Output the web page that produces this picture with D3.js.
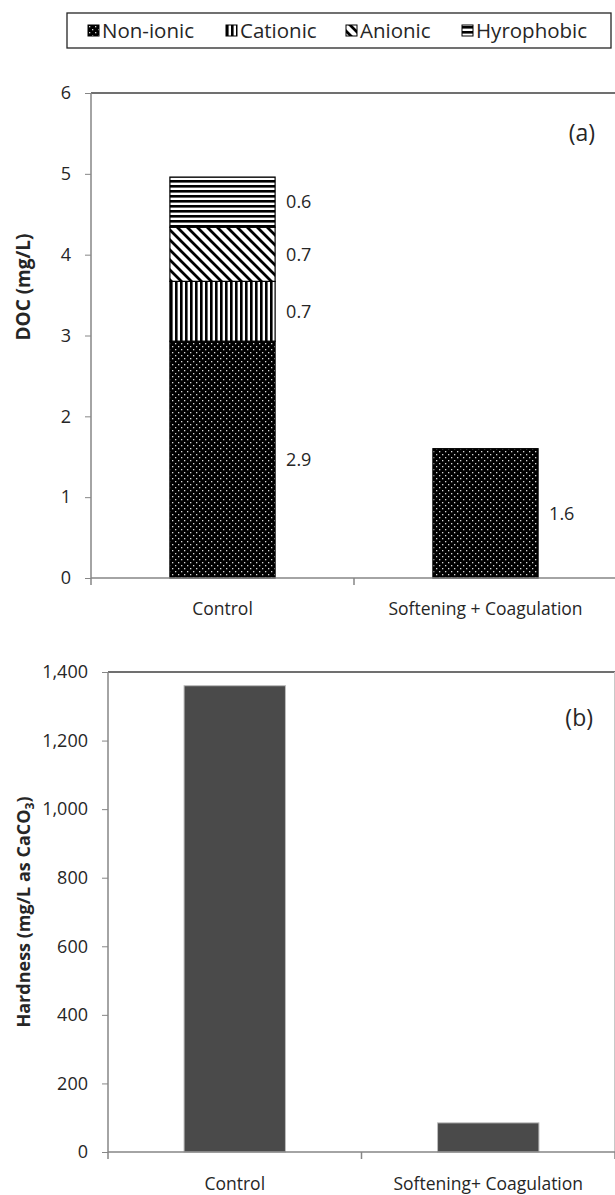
<!DOCTYPE html>
<html>
<head>
<meta charset="utf-8">
<script src="https://cdn.jsdelivr.net/npm/d3@7"></script>
<style>
  body { margin: 0; background: #fff; }
  svg, svg text { font-family: "Open Sans", sans-serif; }
  text { fill: #262626; }
</style>
</head>
<body>
<div id="chart"></div>
<script>
// Panel (a): DOC fractions
const categoriesA = ["Control", "Softening + Coagulation"];
const fractions = ["Non-ionic", "Cationic", "Anionic", "Hyrophobic"];
const docControl = [2.93, 0.74, 0.67, 0.62];
const docTreated = [1.6, 0, 0, 0];
const docTicks = [0, 1, 2, 3, 4, 5, 6];

// Panel (b): hardness
const categoriesB = ["Control", "Softening+ Coagulation"];
const hardness = [1360, 85];
const hardnessTicks = [0, 200, 400, 600, 800, 1000, 1200, 1400];

const width = 615, height = 1195;
const axisColor = "#868686";

const svg = d3.select("#chart")
    .append("svg")
    .attr("width", width)
    .attr("height", height);

// Fill patterns
const defs = svg.append("defs");

const dots = defs.append("pattern")
    .attr("id", "p-nonionic")
    .attr("patternUnits", "userSpaceOnUse")
    .attr("width", 6).attr("height", 6);
dots.append("rect").attr("width", 6).attr("height", 6).attr("fill", "#000");
dots.append("rect").attr("x", 1).attr("y", 1).attr("width", 1.3).attr("height", 1.3).attr("fill", "#d8d8d8");
dots.append("rect").attr("x", 4).attr("y", 4).attr("width", 1.3).attr("height", 1.3).attr("fill", "#d8d8d8");

const vert = defs.append("pattern")
    .attr("id", "p-cationic")
    .attr("patternUnits", "userSpaceOnUse")
    .attr("width", 5).attr("height", 5);
vert.append("rect").attr("width", 5).attr("height", 5).attr("fill", "#fff");
vert.append("rect").attr("width", 2.6).attr("height", 5).attr("fill", "#000");

const diag = defs.append("pattern")
    .attr("id", "p-anionic")
    .attr("patternUnits", "userSpaceOnUse")
    .attr("width", 10).attr("height", 10);
diag.append("rect").attr("width", 10).attr("height", 10).attr("fill", "#fff");
diag.append("path")
    .attr("d", "M-1,-1L11,11M-1,9L1,11M9,-1L11,1")
    .attr("stroke", "#000")
    .attr("stroke-width", 2.8);

const horiz = defs.append("pattern")
    .attr("id", "p-hydrophobic")
    .attr("patternUnits", "userSpaceOnUse")
    .attr("width", 5).attr("height", 5);
horiz.append("rect").attr("width", 5).attr("height", 5).attr("fill", "#fff");
horiz.append("rect").attr("width", 5).attr("height", 2.6).attr("fill", "#000");

const fillScale = d3.scaleOrdinal()
    .domain(fractions)
    .range(["url(#p-nonionic)", "url(#p-cationic)", "url(#p-anionic)", "url(#p-hydrophobic)"]);

// Legend
svg.append("rect")
    .attr("x", 67).attr("y", 13)
    .attr("width", 544).attr("height", 35)
    .attr("fill", "#fff")
    .attr("stroke", "#262626")
    .attr("stroke-width", 1.3);

const legendX = [88, 226, 346, 462];
const legend = svg.selectAll(".legend")
    .data(fractions)
    .enter().append("g")
    .attr("class", "legend")
    .attr("transform", (d, i) => `translate(${legendX[i]},31)`);

legend.append("rect")
    .attr("x", 0).attr("y", -6)
    .attr("width", 11).attr("height", 11)
    .attr("fill", fillScale)
    .attr("stroke", "#000")
    .attr("stroke-width", 1);

legend.append("text")
    .attr("x", 14)
    .attr("dy", "0.35em")
    .style("font-size", "20.5px")
    .text(d => d);

// Shared drawing helpers
function drawFrame(g, x0, x1, y0, y1) {
    g.append("line")
        .attr("x1", x0).attr("x2", x1)
        .attr("y1", y1).attr("y2", y1)
        .attr("stroke", "#404040").attr("stroke-width", 1.5);
    g.append("line")
        .attr("x1", x1 - 0.5).attr("x2", x1 - 0.5)
        .attr("y1", y1).attr("y2", y0)
        .attr("stroke", "#c8c8c8");
}

function drawYAxis(g, y, ticks, x0, fmt) {
    const step = ticks[1] - ticks[0];
    const minor = ticks.slice(0, -1).map(t => t + step / 2);
    const ax = g.append("g")
        .attr("transform", `translate(${x0},0)`)
        .call(d3.axisLeft(y).tickValues(minor).tickSize(6).tickFormat(""))
        .call(d3.axisLeft(y).tickValues(ticks).tickSize(6).tickPadding(14).tickFormat(fmt))
        .attr("font-family", null);
    ax.selectAll("path, line").attr("stroke", axisColor);
    ax.selectAll("text").style("font-size", "18px").attr("fill", "#262626");
    ax.select(".domain").remove();
    ax.append("line")
        .attr("x1", 0).attr("x2", 0)
        .attr("y1", y.range()[0]).attr("y2", y.range()[1])
        .attr("stroke", axisColor).attr("stroke-width", 1.5);
}

function drawXAxis(g, x, y0, pad) {
    const ax = g.append("g")
        .attr("transform", `translate(0,${y0})`)
        .call(d3.axisBottom(x).tickSize(0).tickPadding(pad))
        .attr("font-family", null);
    ax.select(".domain").remove();
    ax.selectAll("text").style("font-size", "17.5px").attr("fill", "#262626");
    ax.append("line")
        .attr("x1", x.range()[0]).attr("x2", x.range()[1])
        .attr("stroke", axisColor).attr("stroke-width", 1.5);
    const bounds = x.domain().map(d => x(d)).concat([x.range()[1]]);
    ax.selectAll(".bound")
        .data(bounds)
        .enter().append("line")
        .attr("class", "bound")
        .attr("x1", d => d).attr("x2", d => d)
        .attr("y1", 0).attr("y2", 7)
        .attr("stroke", axisColor).attr("stroke-width", 1.5);
}

// ---------- Panel (a) ----------
const ga = svg.append("g");
const xA = d3.scaleBand().domain(categoriesA).range([91, 617]);
const yA = d3.scaleLinear().domain([0, 6]).range([578, 93]);
const barWA = xA.bandwidth() * 0.4;

drawFrame(ga, 91, 617, 578, 93);

const rowsA = [docControl, docTreated].map((vals, i) => {
    const row = {category: categoriesA[i]};
    fractions.forEach((f, j) => row[f] = vals[j]);
    return row;
});
const stack = d3.stack().keys(fractions)(rowsA);

const layers = ga.selectAll(".layer")
    .data(stack)
    .enter().append("g")
    .attr("class", "layer")
    .attr("fill", d => fillScale(d.key));

layers.selectAll("rect")
    .data(d => d.filter(s => s[1] - s[0] > 0))
    .enter().append("rect")
    .attr("x", s => xA(s.data.category) + (xA.bandwidth() - barWA) / 2)
    .attr("y", s => yA(s[1]))
    .attr("width", barWA)
    .attr("height", s => yA(s[0]) - yA(s[1]))
    .attr("stroke", "#000")
    .attr("stroke-width", 1.2);

layers.selectAll("text")
    .data(d => d.filter(s => s[1] - s[0] > 0))
    .enter().append("text")
    .attr("x", s => xA(s.data.category) + (xA.bandwidth() + barWA) / 2 + 11)
    .attr("y", s => yA((s[0] + s[1]) / 2))
    .attr("dy", "0.35em")
    .attr("fill", "#262626")
    .style("font-size", "18px")
    .text(s => d3.format(".1f")(s[1] - s[0]));

drawYAxis(ga, yA, docTicks, 91, d3.format("d"));
drawXAxis(ga, xA, 578, 25);

ga.append("text")
    .attr("transform", "translate(30,287) rotate(-90)")
    .style("text-anchor", "middle")
    .style("font-size", "19px")
    .style("font-weight", "bold")
    .attr("fill", "#111")
    .text("DOC (mg/L)");

ga.append("text")
    .attr("x", 595).attr("y", 133)
    .attr("dy", "0.35em")
    .style("text-anchor", "end")
    .style("font-size", "23px")
    .text("(a)");

// ---------- Panel (b) ----------
const gb = svg.append("g");
const xB = d3.scaleBand().domain(categoriesB).range([108, 615]);
const yB = d3.scaleLinear().domain([0, 1400]).range([1152, 672]);
const barWB = xB.bandwidth() * 0.4;

drawFrame(gb, 108, 615, 1152, 672);

gb.selectAll(".bar")
    .data(hardness)
    .enter().append("rect")
    .attr("class", "bar")
    .attr("x", (d, i) => xB(categoriesB[i]) + (xB.bandwidth() - barWB) / 2)
    .attr("y", d => yB(d))
    .attr("width", barWB)
    .attr("height", d => yB(0) - yB(d))
    .attr("fill", "#4a4a4a")
    .attr("stroke", "#bdbdbd")
    .attr("stroke-width", 1);

drawYAxis(gb, yB, hardnessTicks, 108, d3.format(","));
drawXAxis(gb, xB, 1152, 26);

const titleB = gb.append("text")
    .attr("transform", "translate(30,912) rotate(-90)")
    .style("text-anchor", "middle")
    .style("font-size", "18px")
    .style("font-weight", "bold")
    .attr("fill", "#111");
titleB.append("tspan").text("Hardness (mg/L as CaCO");
titleB.append("tspan").attr("dy", 4).style("font-size", "12px").text("3");
titleB.append("tspan").attr("dy", -4).text(")");

gb.append("text")
    .attr("x", 593).attr("y", 718)
    .attr("dy", "0.35em")
    .style("text-anchor", "end")
    .style("font-size", "23px")
    .text("(b)");
</script>
</body>
</html>
